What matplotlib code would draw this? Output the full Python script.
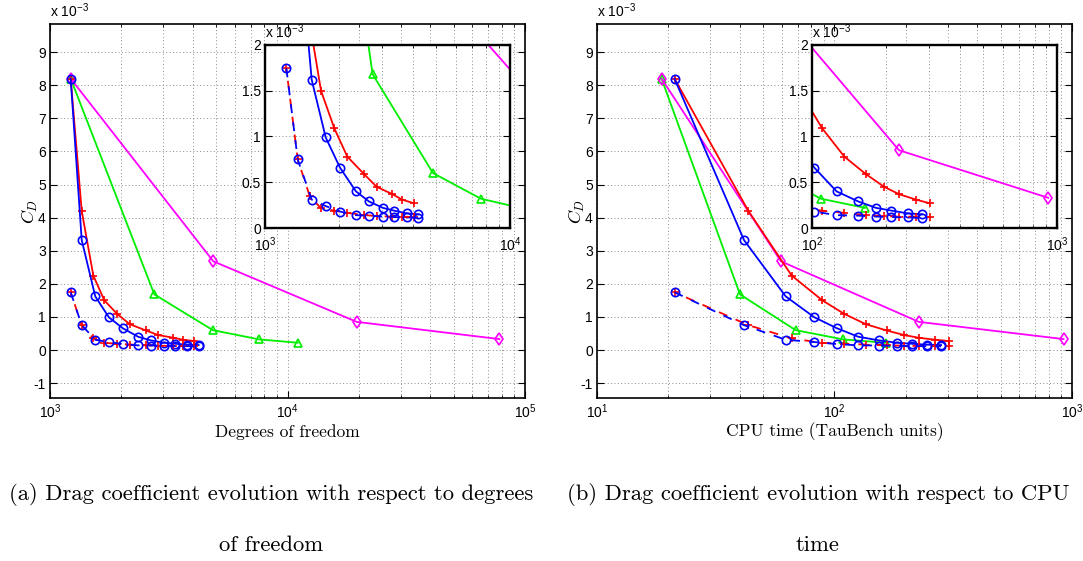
#!/usr/bin/env python3
"""Drag coefficient convergence vs. degrees of freedom and CPU time (with zoomed insets)."""

import matplotlib; matplotlib.use('Agg')
import matplotlib.pyplot as plt
from matplotlib import ticker

plt.rcParams['font.family'] = ['Liberation Sans', 'DejaVu Sans']
plt.rcParams['font.size'] = 10
plt.rcParams['mathtext.fontset'] = 'custom'
plt.rcParams['mathtext.rm'] = 'Liberation Sans'
plt.rcParams['mathtext.it'] = 'Liberation Sans:italic'
plt.rcParams['axes.unicode_minus'] = False

# abscissae (shared by solid and dashed curve of each method)
dof_blue = [1222, 1360, 1551, 1769, 2023, 2351, 2657, 3030, 3362, 3786, 4225]
dof_red = [1222, 1360, 1522, 1693, 1918, 2167, 2535, 2856, 3311, 3625, 4055]
dof_green = [1222, 2750, 4850, 7610, 11040]
dof_magenta = [1222, 4870, 19560, 78000]

cpu_blue = [21.2, 41.6, 62.3, 82.2, 102.2, 126, 154.5, 182.5, 211, 245.6, 281]
cpu_red = [21.2, 43.4, 66, 88.9, 110, 135.5, 165.7, 197, 226.5, 265.7, 303]
cpu_green = [18.7, 40, 68.6, 108.8, 164.5]
cpu_magenta = [18.7, 59.5, 226.5, 921]

# C_D values, in units of 1e-3
cd_blue = [8.2, 3.32, 1.62, 0.99, 0.66, 0.40, 0.29, 0.22, 0.19, 0.16, 0.15]
cd_red = [8.2, 4.2, 2.25, 1.5, 1.09, 0.78, 0.59, 0.45, 0.37, 0.31, 0.27]
cd_green = [8.2, 1.68, 0.60, 0.32, 0.22]
cd_magenta = [8.2, 2.68, 0.85, 0.33]
cd_blue_dash = [1.745, 0.75, 0.31, 0.24, 0.18, 0.14, 0.135, 0.125, 0.12, 0.115, 0.11]
cd_red_dash = [1.745, 0.75, 0.35, 0.215, 0.19, 0.165, 0.142, 0.13, 0.124, 0.124, 0.12]

captions = [
    ('(a) Drag coefficient evolution with respect to degrees', 'of freedom'),
    ('(b) Drag coefficient evolution with respect to CPU', 'time'),
]

BLUE, RED, GREEN, MAGENTA = '#0000ff', '#ff0000', '#00ee00', '#ff00ff'
GRID = dict(color='#8a8a8a', linestyle=(0, (1, 2.5)), linewidth=0.7)


def draw_curves(ax, xb, xr, xg, xm):
    kw = dict(lw=1.3, ms=6, mfc='none', mew=1.2)
    ax.plot(xg, cd_green, color=GREEN, marker='^', **kw)
    ax.plot(xm, cd_magenta, color=MAGENTA, marker='d', **kw)
    ax.plot(xr, cd_red, color=RED, marker='+', **kw)
    ax.plot(xb, cd_blue, color=BLUE, marker='o', **kw)
    # dashed pair: same pattern, shifted so the two colours alternate
    ax.plot(xr, cd_red_dash, color=RED, marker='+', ls=(3, (5, 5)), **kw)
    ax.plot(xb, cd_blue_dash, color=BLUE, marker='o', ls=(0, (5, 5)), **kw)


def style(ax, lw):
    ax.set_xscale('log')
    ax.tick_params(which='both', direction='in', top=True, right=True, pad=3)
    ax.tick_params(which='major', length=5)
    ax.tick_params(which='minor', length=2.5)
    ax.xaxis.set_major_locator(ticker.LogLocator(base=10, numticks=10))
    ax.xaxis.set_minor_locator(ticker.LogLocator(base=10, subs=range(2, 10), numticks=10))
    ax.xaxis.set_minor_formatter(ticker.NullFormatter())
    ax.grid(True, which='major', axis='both', **GRID)
    ax.grid(True, which='minor', axis='x', **GRID)
    ax.set_axisbelow(True)
    for s in ax.spines.values():
        s.set_linewidth(lw)


fig = plt.figure(figsize=(10.83, 5.61), dpi=100)
W, H = 1083, 561

panels = [
    (50, (1e3, 1e5), (dof_blue, dof_red, dof_green, dof_magenta), (1e3, 1e4), 'Degrees of freedom'),
    (597, (1e1, 1e3), (cpu_blue, cpu_red, cpu_green, cpu_magenta), (1e2, 1e3), 'CPU time (TauBench units)'),
]

for i, (x0, xlim, xs, ixlim, xlabel) in enumerate(panels):
    ax = fig.add_axes([x0 / W, (H - 398) / H, 475 / W, 374 / H])
    draw_curves(ax, *xs)
    style(ax, 1.2)
    ax.set_xlim(*xlim)
    ax.set_ylim(-1.45, 9.85)
    ax.set_yticks(range(-1, 10))
    ax.set_xlabel(xlabel, family='cmr10', fontsize=12.5, va='center')
    ax.xaxis.set_label_coords(0.5, -0.091)
    ax.set_ylabel(r'$C_D$', fontsize=13, math_fontfamily='cm', va='center')
    ax.yaxis.set_label_coords(-20 / 475, 0.5)
    ax.text(0, 1.012, r'x 10$^{-3}$', transform=ax.transAxes, ha='left', va='bottom')

    ins = fig.add_axes([(x0 + 215) / W, (H - 228) / H, 245 / W, 183 / H])
    draw_curves(ins, *xs)
    style(ins, 1.7)
    ins.tick_params(axis='x', pad=5)
    ins.set_xlim(*ixlim)
    ins.set_ylim(0, 2)
    ins.set_yticks([0, 0.5, 1, 1.5, 2])
    ins.yaxis.set_major_formatter(ticker.FormatStrFormatter('%g'))
    ins.text(0, 1.02, r'x 10$^{-3}$', transform=ins.transAxes, ha='left', va='bottom')

    cx = 271 if i == 0 else 818
    fig.text(cx / W, 1 - 494 / H, captions[i][0], family='cmr10', fontsize=16.3,
             ha='center', va='center')
    fig.text(cx / W, 1 - 545 / H, captions[i][1], family='cmr10', fontsize=16.3,
             ha='center', va='center')

fig.savefig('out.png', dpi=100)
